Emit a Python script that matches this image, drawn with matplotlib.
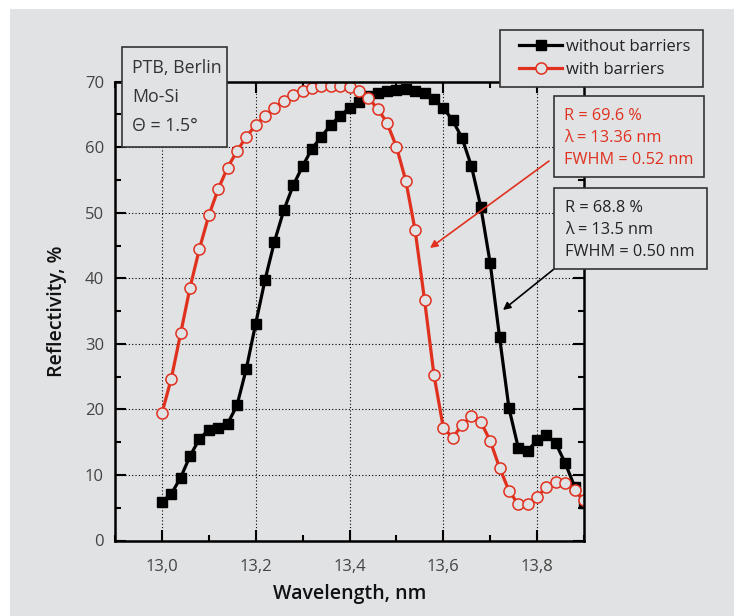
import numpy as np
import matplotlib
matplotlib.use("Agg")
import matplotlib.pyplot as plt
from matplotlib.patches import Rectangle
from matplotlib.ticker import MultipleLocator, FuncFormatter

plt.rcParams['font.family'] = ['Open Sans', 'DejaVu Sans']

# wavelength, nm
wavelength = [13.00, 13.02, 13.04, 13.06, 13.08, 13.10, 13.12, 13.14, 13.16, 13.18,
              13.20, 13.22, 13.24, 13.26, 13.28, 13.30, 13.32, 13.34, 13.36, 13.38,
              13.40, 13.42, 13.44, 13.46, 13.48, 13.50, 13.52, 13.54, 13.56, 13.58,
              13.60, 13.62, 13.64, 13.66, 13.68, 13.70, 13.72, 13.74, 13.76, 13.78,
              13.80, 13.82, 13.84, 13.86, 13.88, 13.90]

# reflectivity, %
without_barriers = [5.9, 7.1, 9.6, 12.9, 15.5, 16.9, 17.2, 17.8, 20.6, 26.2,
                    33.1, 39.8, 45.6, 50.4, 54.2, 57.1, 59.8, 61.6, 63.4, 64.8,
                    66.0, 66.9, 67.8, 68.3, 68.6, 68.8, 68.9, 68.6, 68.2, 67.3,
                    66.0, 64.1, 61.4, 57.1, 50.9, 42.3, 31.0, 20.2, 14.1, 13.7,
                    15.3, 16.1, 14.8, 11.8, 8.2, 5.7]

with_barriers = [19.4, 24.7, 31.6, 38.6, 44.5, 49.6, 53.6, 56.9, 59.4, 61.6,
                 63.4, 64.8, 66.0, 67.1, 68.0, 68.6, 69.1, 69.3, 69.4, 69.4,
                 69.2, 68.6, 67.5, 65.9, 63.7, 60.1, 54.9, 47.3, 36.7, 25.3,
                 17.2, 15.7, 17.6, 19.0, 18.1, 15.2, 11.1, 7.6, 5.5, 5.5,
                 6.7, 8.1, 8.9, 8.8, 7.7, 6.2]

labels = ['without barriers', 'with barriers']
info_text = 'PTB, Berlin\nMo-Si\n\u0398 = 1.5\u00b0'
red_text = 'R = 69.6 %\n\u03bb = 13.36 nm\nFWHM = 0.52 nm'
black_text = 'R = 68.8 %\n\u03bb = 13.5 nm\nFWHM = 0.50 nm'

BG = '#e1e2e4'
RED = '#e0301e'
W, H = 734, 616

fig = plt.figure(figsize=(W / 100, H / 100), dpi=100, facecolor='white')
fig.patches.append(Rectangle((10 / W, 0), 1, 1 - 9 / H, transform=fig.transFigure,
                             facecolor=BG, edgecolor='none', zorder=-5))

ax = fig.add_axes([115 / W, 1 - 540.5 / H, 469 / W, 458.8 / H])
ax.set_facecolor(BG)

ax.plot(wavelength, without_barriers, color='black', lw=2.3, marker='s', ms=7.5,
        label=labels[0])
ax.plot(wavelength, with_barriers, color=RED, lw=2.3, marker='o', ms=8,
        mfc=BG, mec=RED, mew=1.1, label=labels[1])

ax.set_xlim(12.9, 13.9)
ax.set_ylim(0, 70)
ax.xaxis.set_major_locator(MultipleLocator(0.2))
ax.xaxis.set_minor_locator(MultipleLocator(0.1))
ax.yaxis.set_major_locator(MultipleLocator(10))
ax.yaxis.set_minor_locator(MultipleLocator(5))
ax.xaxis.set_major_formatter(FuncFormatter(lambda v, p: ('%.1f' % v).replace('.', ',')))
ax.tick_params(which='both', direction='in', top=True, right=True, width=1.5,
               labelsize=12, labelcolor='#444444')
ax.tick_params(which='major', length=8)
ax.tick_params(which='minor', length=4.5)
ax.tick_params(axis='x', which='major', pad=13)
ax.tick_params(axis='y', which='major', pad=8)
for s in ax.spines.values():
    s.set_linewidth(1.8)
ax.grid(True, which='major', color='black', linestyle=(0, (1, 2)), linewidth=0.8)
ax.set_axisbelow(True)

ax.set_xlabel('Wavelength, nm', fontsize=14, fontweight='semibold', color='#111111',
              labelpad=7)
ax.set_ylabel('Reflectivity, %', fontsize=14, fontweight='semibold', color='#111111',
              labelpad=13)


def box(x0, y0, x1, y1):
    fig.patches.append(Rectangle((x0 / W, 1 - y1 / H), (x1 - x0) / W, (y1 - y0) / H,
                                 transform=fig.transFigure, facecolor=BG,
                                 edgecolor='#333333', lw=1.2, zorder=5))


# legend frame drawn as a plain box, entries placed inside it
box(500, 30, 703, 87)
leg = fig.legend(loc='upper left', bbox_to_anchor=(519 / W, 1 - 39 / H),
                 bbox_transform=fig.transFigure, borderaxespad=0, borderpad=0,
                 fontsize=12, frameon=False, handlelength=2.6, handletextpad=0.2,
                 labelspacing=0.42, numpoints=1)
leg.set_zorder(7)
for t in leg.get_texts():
    t.set_color('#222222')

box(122, 47, 227, 147)
fig.text(132 / W, 1 - 97 / H, info_text, fontsize=12.8, color='#333333',
         va='center', ha='left', linespacing=1.8, zorder=6)

box(554, 96, 704, 177)
fig.text(564 / W, 1 - 138 / H, red_text, fontsize=11.7, color=RED,
         va='center', ha='left', linespacing=1.5, zorder=6)

box(554, 188, 707, 269)
fig.text(565 / W, 1 - 230 / H, black_text, fontsize=11.7, color='#222222',
         va='center', ha='left', linespacing=1.5, zorder=6)

ax.annotate('', xy=(430, H - 248), xytext=(549, H - 161), xycoords='figure pixels',
            textcoords='figure pixels',
            arrowprops=dict(arrowstyle='-|>', color=RED, lw=1.2, mutation_scale=11,
                            shrinkA=0, shrinkB=0))
ax.annotate('', xy=(503, H - 310), xytext=(554, H - 269), xycoords='figure pixels',
            textcoords='figure pixels',
            arrowprops=dict(arrowstyle='-|>', color='black', lw=1.2, mutation_scale=11,
                            shrinkA=0, shrinkB=0))

fig.savefig('out.png', dpi=100, facecolor=fig.get_facecolor())
